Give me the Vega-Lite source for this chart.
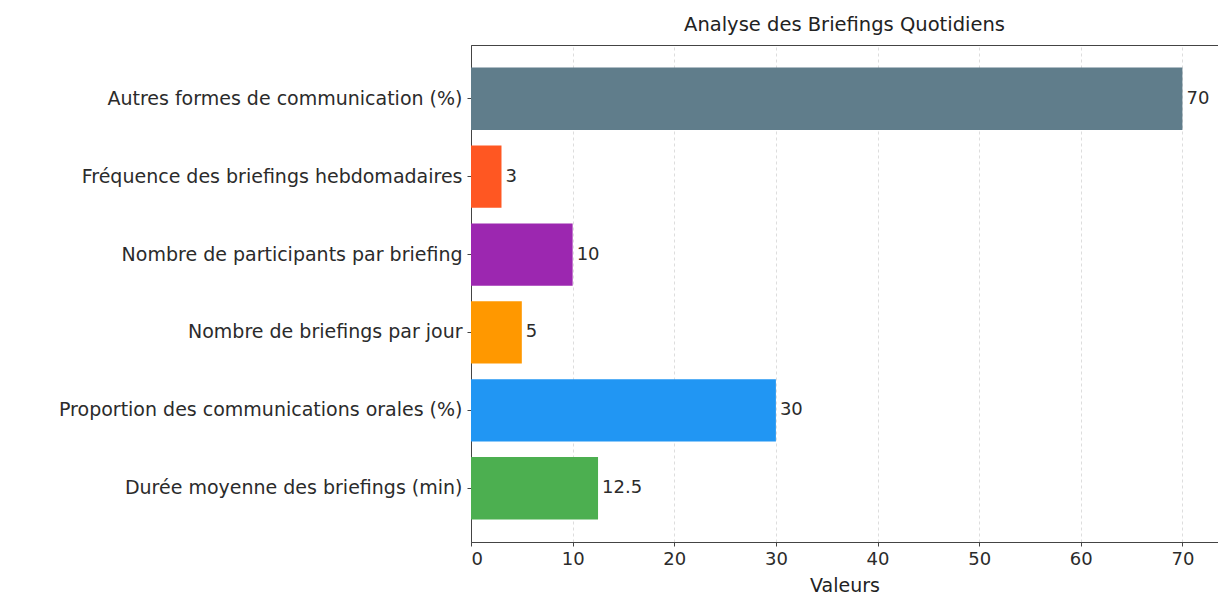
{
  "$schema": "https://vega.github.io/schema/vega-lite/v6.json",
  "autosize": {"type": "none"},
  "padding": {"left": 471, "top": 45, "right": 0, "bottom": 57},
  "width": 747,
  "height": 497,
  "background": "white",
  "title": {
    "text": "Analyse des Briefings Quotidiens",
    "font": "DejaVu Sans",
    "fontSize": 19.5,
    "fontWeight": "normal",
    "color": "#222222",
    "offset": 10,
    "anchor": "middle"
  },
  "config": {
    "view": {"stroke": "#444444", "strokeWidth": 1},
    "font": "DejaVu Sans"
  },
  "data": {
    "values": [
      {"categorie": "Autres formes de communication (%)", "valeur": 70, "label": "70", "couleur": "#607D8B"},
      {"categorie": "Fréquence des briefings hebdomadaires", "valeur": 3, "label": "3", "couleur": "#FF5722"},
      {"categorie": "Nombre de participants par briefing", "valeur": 10, "label": "10", "couleur": "#9C27B0"},
      {"categorie": "Nombre de briefings par jour", "valeur": 5, "label": "5", "couleur": "#FF9800"},
      {"categorie": "Proportion des communications orales (%)", "valeur": 30, "label": "30", "couleur": "#2196F3"},
      {"categorie": "Durée moyenne des briefings (min)", "valeur": 12.5, "label": "12.5", "couleur": "#4CAF50"}
    ]
  },
  "encoding": {
    "y": {
      "field": "categorie",
      "type": "nominal",
      "sort": null,
      "scale": {"paddingInner": 0.2, "paddingOuter": 0.29},
      "axis": {
        "title": null,
        "labelFont": "DejaVu Sans",
        "labelFontSize": 19,
        "labelColor": "#2b2b2b",
        "labelPadding": 5,
        "tickSize": 4,
        "tickColor": "#444444",
        "domainColor": "#444444",
        "labelLimit": 480,
        "grid": false
      }
    },
    "x": {
      "field": "valeur",
      "type": "quantitative",
      "scale": {"domain": [0, 73.5], "nice": false, "zero": true},
      "axis": {
        "title": "Valeurs",
        "titleFont": "DejaVu Sans",
        "titleFontSize": 19,
        "titleFontWeight": "normal",
        "titleColor": "#222222",
        "titlePadding": 8,
        "values": [0, 10, 20, 30, 40, 50, 60, 70],
        "labelFont": "DejaVu Sans",
        "labelFontSize": 18,
        "labelColor": "#2b2b2b",
        "labelPadding": 4,
        "tickSize": 4,
        "tickColor": "#444444",
        "domainColor": "#444444",
        "grid": true,
        "gridColor": "#d4d4d4",
        "gridDash": [3, 3],
        "gridWidth": 0.8
      }
    }
  },
  "layer": [
    {
      "mark": {"type": "bar"},
      "encoding": {
        "color": {"field": "couleur", "type": "nominal", "scale": null, "legend": null}
      }
    },
    {
      "mark": {"type": "text", "align": "left", "baseline": "middle", "dx": 4, "fontSize": 18, "color": "#2b2b2b"},
      "encoding": {
        "text": {"field": "label", "type": "nominal"}
      }
    }
  ]
}
